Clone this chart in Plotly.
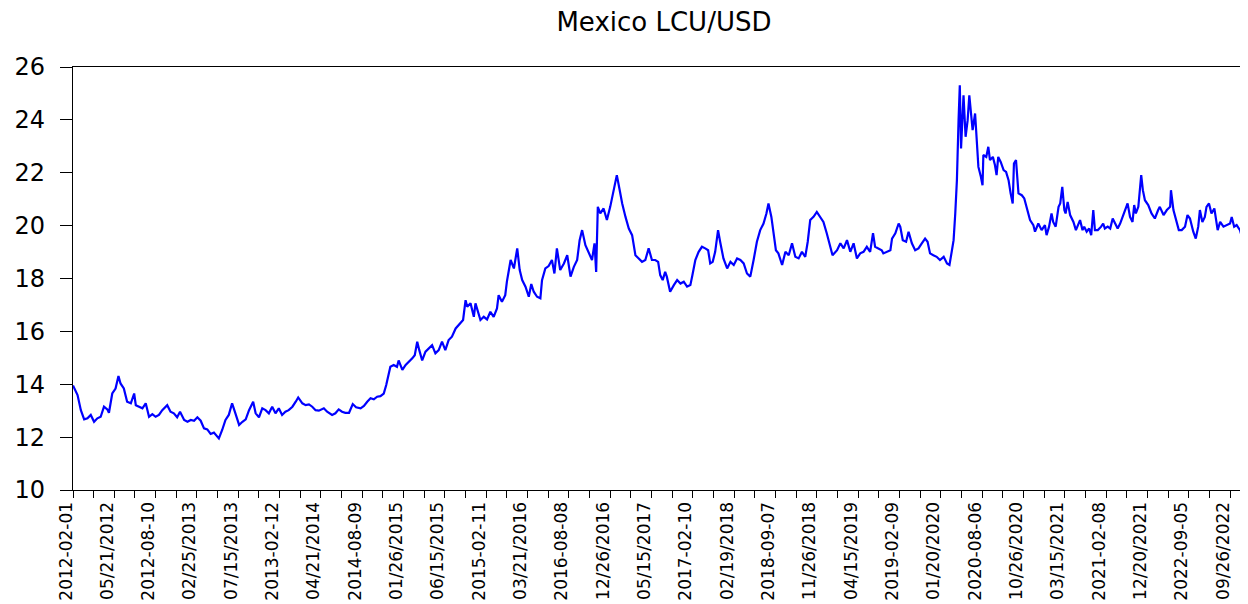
import plotly.graph_objects as go

obs_index = [
    0, 11, 19, 27, 35, 43, 51, 59, 67, 75, 83, 87, 95, 103, 110, 115, 123, 131, 140, 148,
    152, 160, 168, 176, 184, 192, 200, 208, 216, 228, 236, 244, 252, 259, 269, 277, 285, 293, 301, 309,
    317, 325, 333, 341, 353, 361, 369, 377, 385, 393, 402, 410, 418, 426, 436, 442, 450, 458,
    466, 474, 482, 490, 498, 506, 514, 522, 531, 539, 545, 555, 563, 571, 579, 587, 595, 607,
    615, 627, 635, 643, 651, 659, 668, 677, 685, 696, 704, 712, 720, 728, 736, 744, 752, 758,
    763, 768, 776, 784, 788, 797, 805, 813, 821, 827, 833, 838, 845, 853, 861, 869, 877, 885,
    893, 901, 909, 917, 926, 934,
    944, 950, 954, 962, 970, 974, 978, 986, 994, 1002, 1010, 1018, 1026, 1030, 1038, 1046, 1050,
    1059, 1067, 1075, 1081, 1087, 1095, 1103, 1109, 1115, 1123, 1131, 1135, 1143, 1151, 1159, 1165,
    1171, 1179, 1188, 1196, 1204, 1212, 1220, 1226, 1232, 1240, 1248, 1256, 1262, 1266, 1270, 1276,
    1284, 1292, 1300, 1308, 1316, 1323, 1329, 1337, 1345, 1353, 1361, 1369, 1377, 1385, 1393, 1401,
    1409, 1416, 1421, 1427, 1433, 1437, 1445, 1454, 1462, 1470, 1478, 1486, 1494, 1499, 1506, 1514,
    1522, 1530, 1537, 1542, 1548, 1554, 1561, 1566, 1574, 1583, 1591, 1599, 1607, 1615, 1623, 1631,
    1639, 1647, 1655, 1663, 1671, 1678, 1683, 1690, 1695, 1701, 1707, 1716, 1724, 1732, 1740, 1748,
    1756, 1764, 1772, 1778, 1784, 1792, 1800, 1808, 1816, 1824, 1832, 1838, 1849, 1857, 1865, 1873,
    1881, 1889, 1897, 1905, 1913, 1921, 1929, 1936, 1941, 1949, 1957, 1961, 1969, 1978, 1982, 1990,
    1998, 2002, 2008, 2016, 2022, 2030, 2038, 2046, 2054, 2062, 2068, 2074, 2082, 2090, 2098, 2107,
    2115, 2121, 2127, 2131, 2135, 2139, 2143, 2146, 2149, 2155, 2160, 2165, 2169, 2173, 2177, 2183,
    2187, 2191, 2197, 2201, 2203, 2210, 2215, 2219, 2226, 2231, 2235, 2239, 2245, 2252, 2258, 2264,
    2269, 2274, 2277, 2282, 2288, 2296, 2302, 2308, 2316, 2324, 2328, 2336, 2344,
    2352, 2356, 2362, 2368, 2372, 2378, 2385, 2389, 2394, 2399, 2402, 2407, 2413, 2421, 2427, 2433,
    2437, 2443, 2447, 2453, 2459, 2464, 2469, 2473, 2480, 2488, 2493, 2497, 2504, 2510, 2516, 2522,
    2528, 2534, 2539, 2546, 2552, 2558, 2564, 2568, 2572, 2578, 2585, 2589, 2594, 2602, 2610, 2618,
    2626, 2630, 2639, 2647, 2655, 2657, 2663, 2671, 2676, 2683, 2691, 2697, 2703, 2711, 2717, 2723,
    2727, 2733, 2739, 2743, 2749, 2755, 2762, 2770, 2776, 2784, 2792, 2800, 2804, 2810, 2816, 2824,
    2832, 2838, 2841,
]

usd_mxn = [
    13.95, 13.59, 13.02, 12.67, 12.71, 12.84, 12.58, 12.71, 12.77, 13.15, 13.05, 12.92, 13.65, 13.84, 14.31, 14.03, 13.84, 13.34, 13.28, 13.65,
    13.21, 13.15, 13.09, 13.28, 12.77, 12.87, 12.77, 12.84, 13.02, 13.21, 12.96, 12.90, 12.75, 12.96, 12.65, 12.58, 12.65, 12.62, 12.75, 12.62,
    12.33, 12.29, 12.12, 12.17, 11.95, 12.27, 12.65, 12.84, 13.28, 12.90, 12.46, 12.58, 12.67, 13.02, 13.34, 12.90, 12.75, 13.09,
    13.02, 12.90, 13.15, 12.90, 13.09, 12.84, 12.96, 13.02, 13.15, 13.34, 13.50, 13.28, 13.21, 13.24, 13.15, 13.02, 13.00, 13.09,
    12.96, 12.84, 12.90, 13.05, 12.96, 12.92, 12.92, 13.25, 13.13, 13.09, 13.18, 13.34, 13.47, 13.43, 13.53, 13.55, 13.65, 13.97,
    14.28, 14.66, 14.73, 14.66, 14.90, 14.54, 14.73, 14.85, 14.98, 15.10, 15.61, 15.29, 14.90, 15.23, 15.36, 15.48, 15.17, 15.29,
    15.61, 15.29, 15.67, 15.80, 16.11, 16.24,
    16.43, 17.18, 16.93, 17.06, 16.55, 17.06, 16.87, 16.43, 16.55, 16.45, 16.74, 16.55, 16.87, 17.37, 17.12, 17.37, 17.88,
    18.70, 18.38, 19.14, 18.32, 17.94, 17.69, 17.31, 17.79, 17.50, 17.31, 17.25, 17.94, 18.38, 18.47, 18.70, 18.19,
    19.14, 18.32, 18.57, 18.88, 18.07, 18.44, 18.70, 19.45, 19.83, 19.26, 18.95, 18.70, 19.33, 18.25, 20.71, 20.46,
    20.65, 20.21, 20.71, 21.34, 21.91, 21.34, 20.84, 20.33, 19.89, 19.64, 18.88, 18.76, 18.63, 18.70, 19.14, 18.70,
    18.70, 18.63, 18.13, 17.94, 18.25, 18.07, 17.50, 17.75, 17.94, 17.81, 17.88, 17.69, 17.75, 18.13, 18.70, 19.01,
    19.20, 19.14, 19.07, 18.57, 18.63, 19.01, 19.83, 19.39, 18.76, 18.38, 18.63, 18.51, 18.76, 18.70, 18.57, 18.19,
    18.07, 18.70, 19.39, 19.83, 20.08, 20.46, 20.84, 20.33, 19.83, 19.07, 18.95, 18.51, 19.01, 18.88, 19.33, 18.82,
    18.76, 19.01, 18.82, 19.39, 20.21, 20.33, 20.52, 20.33, 20.14, 19.71, 19.20, 18.88, 19.07, 19.33, 19.14, 19.45,
    19.01, 19.33, 18.76, 18.95, 19.01, 19.20, 19.01, 19.71, 19.20, 19.14, 19.07, 18.95, 19.01, 19.07, 19.51, 19.71,
    20.08, 19.95, 19.45, 19.39, 19.77, 19.33, 19.07, 19.14, 19.33, 19.51, 19.39, 18.95, 18.88, 18.82, 18.70, 18.82,
    18.57, 18.51, 19.07, 19.45, 20.46, 21.72, 23.99, 25.31, 22.92, 24.93, 23.36, 23.99, 24.93, 24.37, 23.61, 24.24,
    23.36, 22.22, 21.85, 21.53, 22.67, 22.60, 22.98, 22.48, 22.60, 22.29, 21.91, 22.60, 22.41, 22.10, 22.03, 21.72,
    21.22, 20.84, 22.35, 22.48, 21.22, 21.15, 21.03, 20.71, 20.21, 20.02, 19.77, 20.08, 19.83,
    20.02, 19.64, 19.96, 20.46, 20.14, 19.96, 20.71, 20.84, 21.47, 20.59, 20.46, 20.90, 20.40, 20.14, 19.83, 20.08,
    20.21, 19.83, 19.96, 19.77, 19.89, 19.64, 20.59, 19.83, 19.83, 19.96, 20.08, 19.89, 19.96, 19.89, 20.27, 20.08,
    19.89, 20.08, 20.33, 20.59, 20.84, 20.33, 20.14, 20.78, 20.46, 20.71, 21.91, 21.34, 20.96, 20.78, 20.46, 20.27,
    20.59, 20.71, 20.40, 20.59, 20.71, 21.34, 20.59, 20.14, 19.83, 19.83, 19.96, 20.40, 20.27, 19.77, 19.51, 19.96,
    20.59, 20.14, 20.33, 20.71, 20.84, 20.46, 20.65, 19.83, 20.14, 19.96, 20.02, 20.08, 20.33, 19.96, 20.02, 19.83,
    19.39, 19.45, 19.40,
]

# Tick positions (observation numbers) and their labels as printed on the chart
tick_obs = list(range(0, 2801, 50))
label_obs = list(range(0, 2801, 100))
tick_labels = [
    "2012-02-01", "05/21/2012", "2012-08-10", "02/25/2013", "07/15/2013", "2013-02-12",
    "04/21/2014", "2014-08-09", "01/26/2015", "06/15/2015", "2015-02-11", "03/21/2016",
    "2016-08-08", "12/26/2016", "05/15/2017", "2017-02-10", "02/19/2018", "2018-09-07",
    "11/26/2018", "04/15/2019", "2019-02-09", "01/20/2020", "2020-08-06", "10/26/2020",
    "03/15/2021", "2021-02-08", "12/20/2021", "2022-09-05", "09/26/2022",
]
y_ticks = [10, 12, 14, 16, 18, 20, 22, 24, 26]

label_map = dict(zip(label_obs, tick_labels))
tick_text = [label_map.get(t, "") for t in tick_obs]

fig = go.Figure()
fig.add_trace(go.Scatter(
    x=obs_index, y=usd_mxn, mode="lines",
    line=dict(color="#0000FF", width=2.2),
    showlegend=False, hoverinfo="skip",
))

# The page body adds an 8px offset, so the figure is sized 8px smaller than the window.
fig.update_layout(
    width=1240, height=596,
    paper_bgcolor="white", plot_bgcolor="white",
    margin=dict(l=65, r=1, t=59, b=114, autoexpand=False),
    title=dict(
        text="Mexico LCU/USD", x=0.529, xanchor="center",
        y=1 - 14 / 596, yanchor="middle", yref="container",
        font=dict(family="DejaVu Sans", size=26, color="black"),
    ),
    xaxis=dict(
        range=[0, obs_index[-1]], showgrid=False, zeroline=False, automargin=False,
        showline=True, linecolor="black", linewidth=1.2, mirror=True,
        tickmode="array", tickvals=tick_obs, ticktext=tick_text,
        ticks="outside", ticklen=7, tickcolor="black", tickwidth=1,
        tickangle=-90, ticklabelshift=-7, ticklabelstandoff=-3,
        tickfont=dict(family="DejaVu Sans", size=17, color="black"),
    ),
    yaxis=dict(
        range=[10, 26], showgrid=False, zeroline=False, automargin=False,
        showline=True, linecolor="black", linewidth=1.2, mirror=True,
        tickmode="array", tickvals=y_ticks,
        ticks="outside", ticklen=12, tickcolor="black", tickwidth=1,
        ticklabelstandoff=10,
        tickfont=dict(family="DejaVu Sans", size=24, color="black"),
    ),
)

fig.write_html("out.html")
